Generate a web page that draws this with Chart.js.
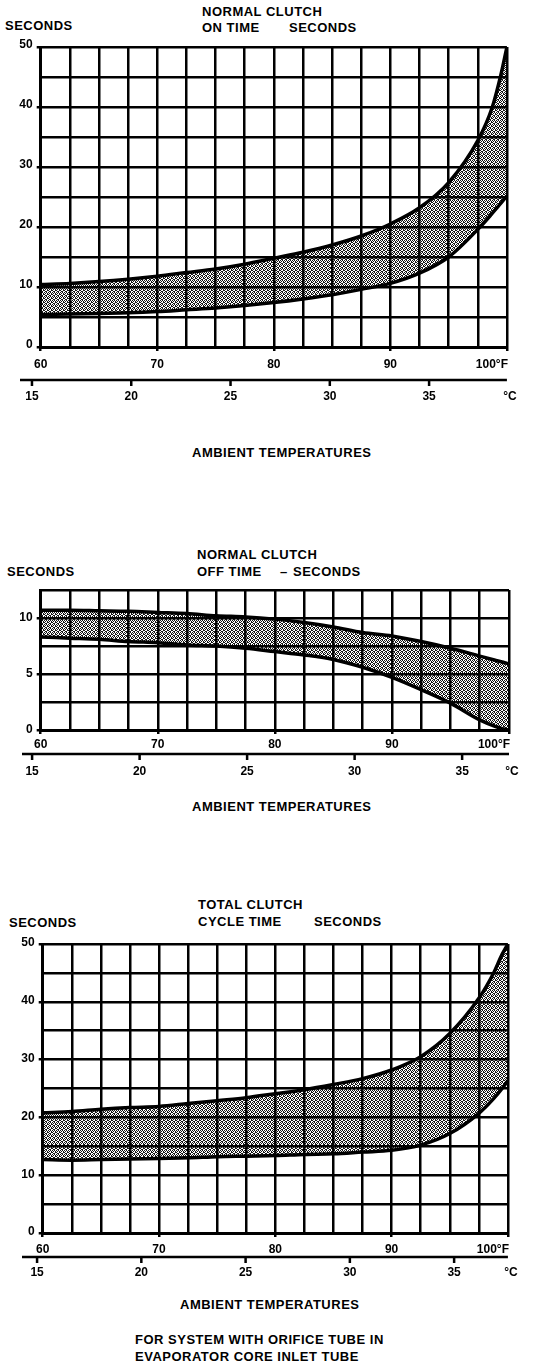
<!DOCTYPE html>
<html>
<head>
<meta charset="utf-8">
<script src="https://cdn.jsdelivr.net/npm/chart.js@4.4.1/dist/chart.umd.min.js"></script>
<style>
  body { margin: 0; background: #fff; }
  #page { position: relative; width: 544px; height: 1368px; overflow: hidden;
          font-family: "Liberation Sans", Arial, sans-serif; }
  .t { position: absolute; font-size: 13px; font-weight: bold; letter-spacing: 0.5px;
       line-height: 14px; white-space: pre; color: #000; }
  .box { position: absolute; left: 0; width: 544px; }
</style>
</head>
<body>
<div id="page">
  <!-- on time -->
  <div class="t" style="left:5px;top:19px">SECONDS</div>
  <div class="t" style="left:202px;top:5px">NORMAL CLUTCH</div>
  <div class="t" style="left:202px;top:21px">ON TIME</div>
  <div class="t" style="left:289px;top:21px">SECONDS</div>
  <div class="t" style="left:192px;top:446px">AMBIENT TEMPERATURES</div>
  <div class="box" style="top:0;height:420px"><canvas id="onTime"></canvas></div>

  <!-- off time -->
  <div class="t" style="left:7px;top:565px">SECONDS</div>
  <div class="t" style="left:197px;top:548px">NORMAL CLUTCH</div>
  <div class="t" style="left:197px;top:565px">OFF TIME</div>
  <div class="t" style="left:280px;top:565px">–</div>
  <div class="t" style="left:293px;top:565px">SECONDS</div>
  <div class="t" style="left:192px;top:800px">AMBIENT TEMPERATURES</div>
  <div class="box" style="top:540px;height:250px"><canvas id="offTime"></canvas></div>

  <!-- total cycle -->
  <div class="t" style="left:9px;top:916px">SECONDS</div>
  <div class="t" style="left:198px;top:898px">TOTAL CLUTCH</div>
  <div class="t" style="left:198px;top:915px">CYCLE TIME</div>
  <div class="t" style="left:314px;top:915px">SECONDS</div>
  <div class="t" style="left:180px;top:1298px">AMBIENT TEMPERATURES</div>
  <div class="t" style="left:135px;top:1333px">FOR SYSTEM WITH ORIFICE TUBE IN</div>
  <div class="t" style="left:135px;top:1350px">EVAPORATOR CORE INLET TUBE</div>
  <div class="box" style="top:890px;height:400px"><canvas id="totalTime"></canvas></div>
</div>

<script>
// ambient temperature, °F
const tempF = [60, 62.5, 65, 67.5, 70, 72.5, 75, 77.5, 80, 82.5, 85, 87.5, 90, 92.5, 95, 97.5, 98.75, 99.5, 100];

// normal clutch on time, seconds
const onUpper = [10.4, 10.6, 10.9, 11.3, 11.8, 12.4, 13.0, 13.8, 14.8, 15.8, 17.0, 18.5, 20.5, 23.2, 27.4, 34.4, 40.0, 45.5, 50.0];
const onLower = [5.4, 5.5, 5.6, 5.7, 5.9, 6.2, 6.5, 6.9, 7.4, 8.0, 8.7, 9.6, 10.6, 12.3, 15.0, 19.6, 22.3, 24.0, 25.2];

// normal clutch off time, seconds
const offUpper = [10.7, 10.7, 10.65, 10.6, 10.5, 10.4, 10.2, 10.1, 9.9, 9.6, 9.2, 8.7, 8.4, 7.9, 7.3, 6.6, 6.25, 6.05, 5.9];
const offLower = [8.3, 8.2, 8.1, 7.9, 7.8, 7.6, 7.5, 7.3, 7.0, 6.7, 6.3, 5.6, 4.7, 3.6, 2.4, 0.9, 0.35, 0.1, 0];

// total clutch cycle time, seconds
const totalUpper = [20.8, 21.0, 21.4, 21.7, 21.9, 22.4, 22.9, 23.4, 24.1, 24.8, 25.7, 26.7, 28.2, 30.5, 34.5, 40.6, 44.9, 48.2, 50.0];
const totalLower = [12.7, 12.6, 12.7, 12.8, 12.9, 13.0, 13.2, 13.3, 13.4, 13.6, 13.7, 14.0, 14.3, 15.2, 17.2, 20.7, 23.2, 25.0, 26.4];

// tick labels
const fahrenheitLabels = [60, 70, 80, 90, 100];
const celsiusTicks = [15, 20, 25, 30, 35];

const FONT = '"Liberation Sans", Arial, sans-serif';
Chart.defaults.font.family = FONT;
Chart.defaults.font.size = 12;
Chart.defaults.font.weight = 'bold';
Chart.defaults.color = '#000';

// stipple fill for the band (transparent so the grid shows through)
function stipple() {
    const c = document.createElement('canvas');
    c.width = 4; c.height = 4;
    const g = c.getContext('2d');
    g.fillStyle = 'rgba(10,10,10,0.95)';
    [[0, 0], [2, 0], [1, 1], [3, 1], [0, 2], [3, 2], [1, 3], [2, 3]]
        .forEach(([x, y]) => g.fillRect(x, y, 1, 1));
    return g.createPattern(c, 'repeat');
}

const pts = vals => tempF.map((f, i) => ({ x: f, y: vals[i] }));

// second (celsius) axis under the fahrenheit one
const celsiusAxis = {
    id: 'celsiusAxis',
    afterDraw(chart, args, o) {
        const { ctx, chartArea } = chart;
        const sc = chart.scales.xc;
        const y = chartArea.bottom + o.lineOffset;
        ctx.save();
        ctx.strokeStyle = '#000';
        ctx.fillStyle = '#000';
        ctx.lineWidth = 2.5;
        ctx.beginPath();
        ctx.moveTo(o.lineStart, y);
        ctx.lineTo(chartArea.right, y);
        ctx.stroke();
        ctx.font = 'bold 12px ' + FONT;
        ctx.textAlign = 'center';
        ctx.textBaseline = 'middle';
        celsiusTicks.forEach(c => {
            const x = sc.getPixelForValue(c);
            ctx.fillRect(x - 1.25, y, 2.5, 6);
            ctx.fillText(String(c), x, y + o.labelOffset);
        });
        ctx.fillText('°C', chartArea.right + 3, y + o.labelOffset);
        ctx.restore();
    }
};

function makeChart(id, o) {
    return new Chart(document.getElementById(id), {
        type: 'line',
        data: {
            datasets: [{
                data: pts(o.lower),
                borderColor: '#000',
                borderWidth: 3.5,
                pointRadius: 0,
                cubicInterpolationMode: 'monotone',
                fill: false
            }, {
                data: pts(o.upper),
                borderColor: '#000',
                borderWidth: 3.5,
                pointRadius: 0,
                cubicInterpolationMode: 'monotone',
                backgroundColor: stipple(),
                fill: '-1'
            }]
        },
        options: {
            responsive: true,
            maintainAspectRatio: false,
            animation: false,
            layout: { padding: { top: o.padTop, right: 544 - o.right, bottom: o.padBottom, left: 0 } },
            plugins: {
                legend: { display: false },
                tooltip: { enabled: false },
                celsiusAxis: o.celsius
            },
            scales: {
                x: {
                    type: 'linear',
                    min: 60, max: 100,
                    afterFit: s => { s.height = 30; },
                    afterBuildTicks: s => {
                        s.ticks = tempF.filter(f => f % 2.5 === 0).map(v => ({ value: v }));
                    },
                    ticks: {
                        autoSkip: false,
                        maxRotation: 0,
                        padding: o.fPad,
                        callback: v => fahrenheitLabels.includes(v)
                            ? (v === 100 ? '100°F\u2002\u2002\u2002\u2002\u2002' : String(v)) : ''
                    },
                    grid: {
                        color: '#000',
                        lineWidth: 2.5,
                        tickLength: 4,
                        tickColor: c => fahrenheitLabels.includes(c.tick.value) ? '#000' : 'rgba(0,0,0,0)'
                    },
                    border: { color: '#000', width: 3 }
                },
                xc: {
                    type: 'linear',
                    display: false,
                    position: 'bottom',
                    min: o.cMin, max: o.cMax
                },
                y: {
                    min: 0, max: o.yMax,
                    afterFit: s => { s.width = o.left; },
                    ticks: {
                        stepSize: o.yStep,
                        padding: 4,
                        labelOffset: o.yLabelOffset,
                        callback: v => v % o.yLabelStep === 0 ? String(v) : ''
                    },
                    grid: {
                        color: '#000',
                        lineWidth: 2.5,
                        tickLength: 4,
                        tickColor: c => c.tick.value % o.yLabelStep === 0 ? '#000' : 'rgba(0,0,0,0)'
                    },
                    border: { color: '#000', width: 3 }
                }
            }
        },
        plugins: [celsiusAxis]
    });
}

makeChart('onTime', {
    lower: onLower, upper: onUpper,
    yMax: 50, yStep: 5, yLabelStep: 10, yLabelOffset: -2,
    padTop: 47, padBottom: 43, left: 40.7, right: 508, fPad: 6,
    cMin: 15.44, cMax: 38.92,
    celsius: { lineStart: 20, lineOffset: 33, labelOffset: 17 }
});

makeChart('offTime', {
    lower: offLower, upper: offUpper,
    yMax: 12.5, yStep: 2.5, yLabelStep: 5, yLabelOffset: 0,
    padTop: 50, padBottom: 30, left: 40.7, right: 509, fPad: 3,
    cMin: 15.40, cMax: 37.18,
    celsius: { lineStart: 22, lineOffset: 24, labelOffset: 18 }
});

makeChart('totalTime', {
    lower: totalLower, upper: totalUpper,
    yMax: 50, yStep: 5, yLabelStep: 10, yLabelOffset: -1,
    padTop: 54, padBottom: 27, left: 42.7, right: 510, fPad: 5,
    cMin: 15.27, cMax: 37.58,
    celsius: { lineStart: 22, lineOffset: 24, labelOffset: 16 }
});
</script>
</body>
</html>
